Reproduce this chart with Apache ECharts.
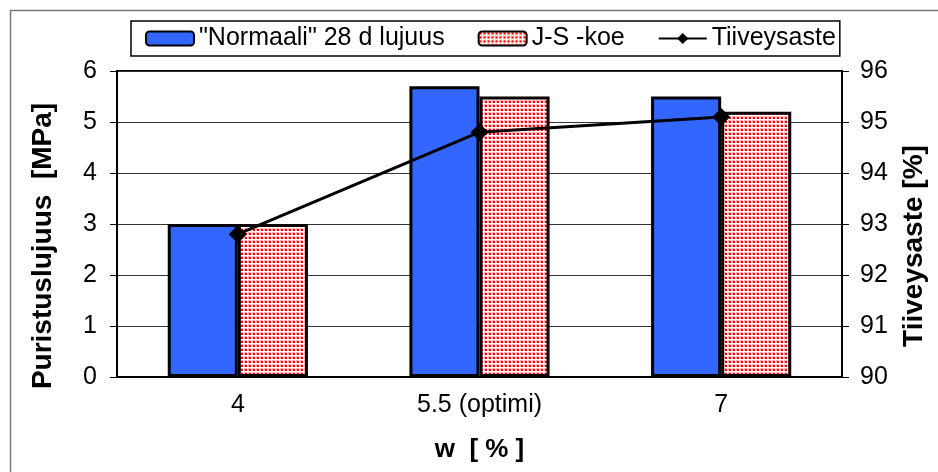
<!DOCTYPE html>
<html>
<head>
<meta charset="utf-8">
<script src="https://cdn.jsdelivr.net/npm/echarts@6/dist/echarts.min.js"></script>
<style>
html,body{margin:0;padding:0;background:#fff;}
#chart{width:938px;height:472px;}
</style>
</head>
<body>
<div id="chart"></div>
<script>
const categories = ['4', '5.5 (optimi)', '7'];
const normaali = [3.0, 5.7, 5.5];
const jsKoe = [3.0, 5.5, 5.2];
const tiiveysaste = [92.8, 94.8, 95.1];
const seriesNames = ['"Normaali" 28 d lujuus', 'J-S -koe', 'Tiiveysaste'];

const FONT = '"Liberation Sans", Arial, sans-serif';

// dotted red pattern
const tile = document.createElement('canvas');
tile.width = 4; tile.height = 4;
const tc = tile.getContext('2d');
tc.fillStyle = '#ffffff'; tc.fillRect(0, 0, 4, 4);
tc.fillStyle = '#ffb3b3'; tc.fillRect(0, 0, 3, 3);
tc.fillStyle = '#ff0000'; tc.fillRect(1, 1, 2, 2);

const chart = echarts.init(document.getElementById('chart'), null, {renderer: 'canvas'});
chart.setOption({
  backgroundColor: '#ffffff',
  animation: false,
  graphic: [{
    type: 'rect', left: 8, top: 8, silent: true,
    shape: {x: 0, y: 0, width: 1000, height: 1000},
    style: {fill: 'none', stroke: '#777', lineWidth: 1.5}
  }],
  legend: {
    left: 131, top: 21,
    padding: [5, 4, 5, 14],
    itemGap: 33,
    itemWidth: 48, itemHeight: 14,
    borderColor: '#000', borderWidth: 1.5,
    textStyle: {fontFamily: FONT, fontSize: 25, color: '#000'},
    data: seriesNames
  },
  grid: {left: 117, right: 96, top: 71, bottom: 95, show: true, borderColor: '#000', borderWidth: 2},
  xAxis: {
    type: 'category', data: categories,
    name: 'w  [ % ]', nameLocation: 'middle', nameGap: 60,
    nameTextStyle: {fontFamily: FONT, fontSize: 26, fontWeight: 'bold', color: '#000'},
    axisLine: {lineStyle: {color: '#000', width: 2}},
    axisTick: {length: 7, lineStyle: {color: '#000', width: 1}},
    axisLabel: {fontFamily: FONT, fontSize: 25, color: '#000', margin: 16}
  },
  yAxis: [{
    type: 'value', min: 0, max: 6, interval: 1, position: 'left',
    name: 'Puristuslujuus  [MPa]', nameLocation: 'middle', nameGap: 60, nameRotate: 90,
    nameTextStyle: {fontFamily: FONT, fontSize: 28, fontWeight: 'bold', color: '#000', padding: [0, 44, 0, 0]},
    axisLine: {show: true, lineStyle: {color: '#000', width: 2}},
    axisTick: {show: true, length: 7, lineStyle: {color: '#000', width: 1}},
    axisLabel: {fontFamily: FONT, fontSize: 25, color: '#000', margin: 20},
    splitLine: {show: true, lineStyle: {color: '#333', width: 1}}
  }, {
    type: 'value', min: 90, max: 96, interval: 1, position: 'right',
    name: 'Tiiveysaste [%]', nameLocation: 'middle', nameGap: 58, nameRotate: 90,
    nameTextStyle: {fontFamily: FONT, fontSize: 28, fontWeight: 'bold', color: '#000', padding: [0, 44, 0, 0]},
    axisLine: {show: true, lineStyle: {color: '#000', width: 2}},
    axisTick: {show: true, length: 7, lineStyle: {color: '#000', width: 1}},
    axisLabel: {fontFamily: FONT, fontSize: 25, color: '#000', margin: 18},
    splitLine: {show: false}
  }],
  series: [{
    name: seriesNames[0], type: 'bar', data: normaali,
    barGap: '0%', barCategoryGap: '42%',
    itemStyle: {color: '#3366ff', borderColor: '#000', borderWidth: 3}
  }, {
    name: seriesNames[1], type: 'bar', data: jsKoe,
    itemStyle: {color: {image: tile, repeat: 'repeat'}, borderColor: '#000', borderWidth: 3}
  }, {
    name: seriesNames[2], type: 'line', yAxisIndex: 1, data: tiiveysaste,
    symbol: 'diamond', symbolSize: 18, z: 5,
    lineStyle: {color: '#000', width: 3},
    itemStyle: {color: '#000'}
  }]
});
</script>
</body>
</html>
